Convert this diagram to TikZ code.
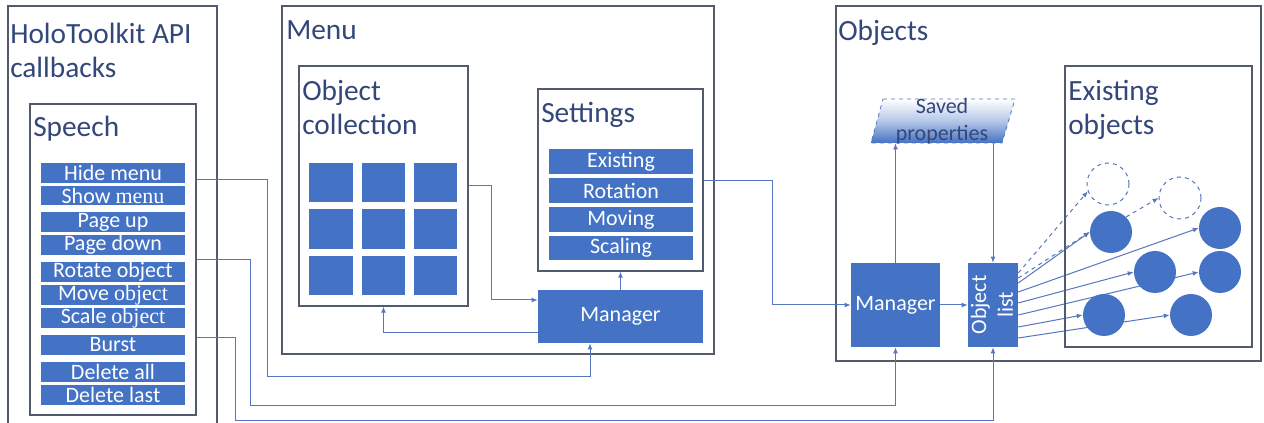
\documentclass[tikz,border=0pt]{standalone}
\usepackage{fontspec}
\setmainfont{Carlito}
\newfontfamily\altserif{Liberation Serif}
\usetikzlibrary{arrows.meta,fit,backgrounds}
\definecolor{boxblue}{HTML}{4472C4}
\definecolor{titlecol}{HTML}{33477A}
\definecolor{framecol}{HTML}{525B6D}
\definecolor{conncol}{HTML}{5577C0}
\begin{document}
\begin{tikzpicture}[x=0.75pt,y=-0.75pt,
  frame/.style={draw=framecol, line width=0.9pt, inner sep=0pt},
  ttl/.style={text=titlecol, font=\fontsize{22}{25.5}\selectfont, anchor=north west, inner sep=0pt, align=left},
  item/.style={fill=boxblue, inner sep=0pt},
  itext/.style={text=white, inner sep=0pt, font=\fontsize{16.5}{18}\selectfont},
  sq/.style={fill=boxblue, inner sep=0pt},
  conn/.style={draw=conncol, line width=0.75pt},
  arr/.style={conn, -{Latex[length=4.5pt,width=3.6pt]}},
  ball/.style={circle, fill=boxblue, inner sep=0pt, minimum size=31.5pt},
  ghost/.style={circle, draw=conncol, dashed, inner sep=0pt, minimum size=31.5pt, line width=0.75pt},
]
\useasboundingbox (0,0) rectangle (1264,423);
\clip (0,0) rectangle (1264,423);

% containers
\node[frame, fit={(8,6)(217,440)}] (holo) {};
\node[frame, fit={(30,104)(196,415)}] (speech) {};
\node[frame, fit={(282,6)(714,354)}] (menu) {};
\node[frame, fit={(299,66)(468,306)}] (ocoll) {};
\node[frame, fit={(538,89)(703,271)}] (settings) {};
\node[frame, fit={(836,6)(1261,361)}] (objects) {};
\node[frame, fit={(1065,66)(1252,347)}] (exist) {};

% titles
\node[ttl] (holoT) at (10,23) {HoloToolkit API\\callbacks};
\node[ttl] (speechT) at (33,116) {Speech};
\node[ttl] (menuT) at (286,20) {Menu};
\node[ttl] (ocollT) at (302,80) {Object\\collection};
\node[ttl] (settingsT) at (541,102) {Settings};
\node[ttl] (objectsT) at (838,20) {Objects};
\node[ttl] (existT) at (1068,80) {Existing\\objects};

% speech items
\node[item, fit={(41,163)(185,183)}, label={[itext]center:Hide menu}] (hide) {};
\node[item, fit={(41,186)(185,205)}, label={[itext]center:Show {\altserif menu}}] (show) {};
\node[item, fit={(41,212)(185,232)}, label={[itext]center:Page up}] (pup) {};
\node[item, fit={(41,235)(185,255)}, label={[itext]center:Page down}] (pdown) {};
\node[item, fit={(41,262)(185,282)}, label={[itext]center:Rotate object}] (rot) {};
\node[item, fit={(41,285)(185,305)}, label={[itext]center:Move {\altserif object}}] (move) {};
\node[item, fit={(41,308)(185,328)}, label={[itext]center:Scale {\altserif object}}] (scale) {};
\node[item, fit={(41,335)(185,355)}, label={[itext]center:Burst}] (burst) {};
\node[item, fit={(41,362)(185,382)}, label={[itext]center:Delete all}] (dall) {};
\node[item, fit={(41,385)(185,405)}, label={[itext]center:Delete last}] (dlast) {};

% object collection grid
\foreach \i/\xa/\xb in {1/309/353,2/362/405,3/414/457}
  \foreach \j/\ya/\yb in {1/163/202,2/209/249,3/256/295}
    \node[sq, fit={(\xa,\ya)(\xb,\yb)}] (sq-\i-\j) {};

% settings items
\node[item, fit={(549,149)(693,174)}, label={[itext]center:Existing}] (sexist) {};
\node[item, fit={(549,178)(693,203)}, label={[itext]center:Rotation}] (srot) {};
\node[item, fit={(549,207)(693,232)}, label={[itext]center:Moving}] (smove) {};
\node[item, fit={(549,236)(693,260)}, label={[itext]center:Scaling}] (sscale) {};

% managers
\node[item, fit={(538,290)(703,343)}, label={[itext]center:Manager}] (mmgr) {};
\node[item, fit={(851,263)(940,347)}, label={[itext]center:Manager}] (omgr) {};
\node[item, fit={(968,263)(1018,347)}] (olist) {};
\node[text=white, font=\fontsize{16.5}{20}\selectfont, rotate=90, align=center, inner sep=0pt] (olistT) at (992,305) {Object\\list};

% saved properties
\node[inner sep=0pt, fit={(871,99)(1015,143)}] (saved) {};
\shade[top color=white, bottom color=boxblue, middle color=boxblue!40] (883,99) -- (1015,99) -- (1002,143) -- (871,143) -- cycle;
\draw[conncol, dashed, line width=0.6pt] (883,99) -- (1015,99) -- (1002,143) -- (871,143) -- cycle;
\node[text=titlecol, font=\fontsize{16.5}{20}\selectfont, align=center] (savedT) at (942,121) {Saved\\properties};

% existing objects
\node[ghost] (d1) at (1108,184) {};
\node[ghost] (d2) at (1180,198) {};
\node[ball] (A) at (1111,232) {};
\node[ball] (B) at (1220,228) {};
\node[ball] (C) at (1155,272) {};
\node[ball] (D) at (1220,272) {};
\node[ball] (E) at (1104,315) {};
\node[ball] (F) at (1191,315) {};

% connectors: speech
\draw[arr] (speech.east |- 0,180) -- (267,180) -- (267,377) -| (590,0 |- mmgr.south);
\draw[arr] (speech.east |- 0,260) -- (250,260) -- (250,406) -| (omgr.south);
\draw[arr] (speech.east |- 0,338) -- (235,338) -- (235,421) -| (olist.south);

% connectors: menu
\draw[arr] (ocoll.east |- 0,186) -- (491,186) |- (mmgr.west |- 0,300);
\draw[arr] (mmgr.west |- 0,333) -| (ocoll.south);
\draw[arr] (mmgr.north) -- (settings.south);
\draw[arr] (settings.east |- 0,181) -- (772,181) |- (omgr.west);

% connectors: objects
\draw[arr] (omgr.east) -- (olist.west);
\draw[arr] (omgr.north) -- (omgr.north |- saved.south);
\draw[arr] (olist.north |- saved.south) -- (olist.north);

\begin{scope}[on background layer]
\fill[white] (0,0) rectangle (1264,423);
\draw[arr, dashed] (olist.east |- 0,273) -- (d1.200);
\draw[arr, dashed] (olist.east |- 0,278) -- (A.west);
\draw[arr] (olist.east |- 0,283) -- (A.west);
\draw[arr] (olist.east |- 0,292) -- (B.west);
\draw[arr] (olist.east |- 0,303) -- (C.west);
\draw[arr] (olist.east |- 0,315) -- (D.west);
\draw[arr] (olist.east |- 0,327) -- (E.west);
\draw[arr] (olist.east |- 0,338) -- (F.west);
\end{scope}
\draw[arr, dashed] (A.45) -- (d2.west);
\end{tikzpicture}
\end{document}
